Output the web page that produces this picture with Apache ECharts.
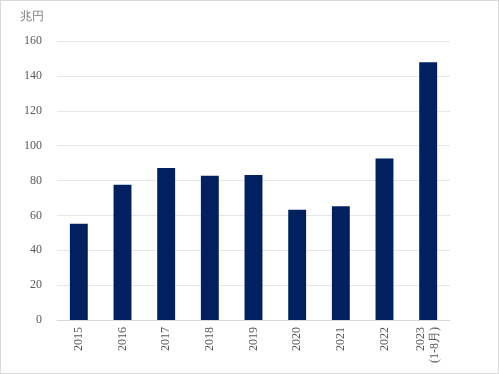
<!DOCTYPE html>
<html><head><meta charset="utf-8">
<script src="https://cdn.jsdelivr.net/npm/echarts@6/dist/echarts.min.js"></script>
<style>
html,body{margin:0;padding:0;background:#fff;}
#c{width:499px;height:374px;box-sizing:border-box;border:1px solid #d9d9d9;}
</style></head><body>
<div id="c"></div>
<script>
const categories = ['2015','2016','2017','2018','2019','2020','2021','2022','2023\n(1-8月)'];
const values = [55.2, 77.5, 87.2, 82.7, 83.1, 63.2, 65.3, 92.6, 147.8];
const yTicks = [0, 20, 40, 60, 80, 100, 120, 140, 160];
const unitLabel = '兆円';

const chart = echarts.init(document.getElementById('c'), null, {renderer:'canvas'});
const font = '"Liberation Serif","DejaVu Serif",serif';
chart.setOption({
  animation:false,
  grid:{left:56, right:48, top:40, bottom:53},
  graphic:[{type:'text', left:19, top:10, style:{text:unitLabel, font:'12px '+font, fill:'#7f7f7f'}}],
  xAxis:{type:'category', data:categories,
    axisLine:{lineStyle:{color:'#d9d9d9'}}, axisTick:{show:false},
    axisLabel:{rotate:90, color:'#595959', fontFamily:font, fontSize:12, margin:7, lineHeight:14}},
  yAxis:{type:'value', min:yTicks[0], max:yTicks[yTicks.length-1], interval:20,
    axisLine:{show:false}, axisTick:{show:false},
    splitLine:{lineStyle:{color:'#e6e6e6'}},
    axisLabel:{color:'#595959', fontFamily:font, fontSize:12, margin:15}},
  series:[{type:'bar', data:values, barWidth:'41%', itemStyle:{color:'#002060'}}]
});
</script></body></html>
